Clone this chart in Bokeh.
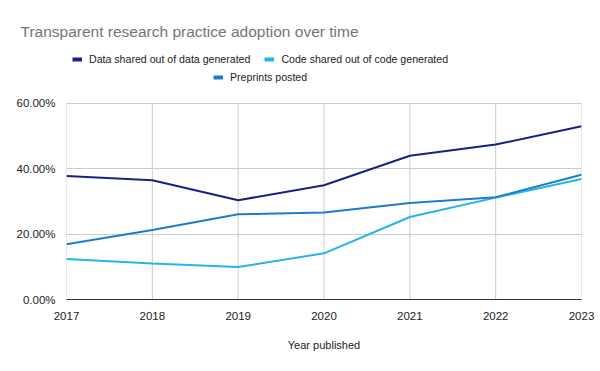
from bokeh.plotting import figure
from bokeh.models import Range1d, FixedTicker, CustomJSTickFormatter, Legend, LegendItem
from bokeh.embed import file_html
from bokeh.resources import INLINE

years = [2017, 2018, 2019, 2020, 2021, 2022, 2023]
data_shared = [37.7, 36.4, 30.3, 34.9, 43.9, 47.3, 52.9]
code_shared = [12.4, 11.0, 9.9, 14.1, 25.2, 31.1, 36.8]
preprints = [16.9, 21.2, 26.0, 26.6, 29.5, 31.2, 38.1]
y_ticks = [0, 20, 40, 60]
series_names = ["Data shared out of data generated",
                "Code shared out of code generated",
                "Preprints posted"]
colors = ["#1b1f86", "#23b4ec", "#1c7ccc"]

FONT = "Liberation Sans"
TEXT = "#222222"

# frame extends upward so the legend can sit inside it (above the 60% line)
y_top = y_ticks[-1] * 254.0 / 196.5

p = figure(width=600, height=371, output_backend="svg", toolbar_location=None,
           x_range=Range1d(years[0], years[-1]), y_range=Range1d(0, y_top),
           min_border_left=66, min_border_right=19, min_border_top=45,
           min_border_bottom=72)
p.outline_line_color = None
p.background_fill_color = "white"
p.border_fill_color = "white"

p.title.text = "Transparent research practice adoption over time"
p.title.text_font = FONT
p.title.text_font_size = "15.5px"
p.title.text_font_style = "normal"
p.title.text_color = "#757575"
p.title.align = "left"
p.title.offset = -46
p.title.standoff = 11

# vertical grid lines only up to the top tick
p.xgrid.grid_line_color = None
p.segment(x0=years, y0=[y_ticks[0]] * len(years), x1=years,
          y1=[y_ticks[-1]] * len(years), line_color="#cccccc", line_width=1,
          level="underlay")
p.ygrid.grid_line_color = "#cccccc"

r1 = p.line(years, data_shared, line_color=colors[0], line_width=2)
r2 = p.line(years, code_shared, line_color=colors[1], line_width=2)
r3 = p.line(years, preprints, line_color=colors[2], line_width=2)

# legend-only swatches (thicker)
s1 = p.line(years, data_shared, line_color=colors[0], line_width=4, visible=False)
s2 = p.line(years, code_shared, line_color=colors[1], line_width=4, visible=False)
s3 = p.line(years, preprints, line_color=colors[2], line_width=4, visible=False)

# axes
p.xaxis.ticker = FixedTicker(ticks=years)
p.yaxis.ticker = FixedTicker(ticks=y_ticks)
p.yaxis.formatter = CustomJSTickFormatter(code="return tick.toFixed(2) + '%';")
for ax in (p.xaxis[0], p.yaxis[0]):
    ax.major_tick_line_color = None
    ax.minor_tick_line_color = None
    ax.major_label_text_font = FONT
    ax.major_label_text_font_size = "11.5px"
    ax.major_label_text_color = TEXT
p.yaxis.axis_line_color = None
p.yaxis.major_label_standoff = 5
p.xaxis.axis_line_color = "#333333"
p.xaxis.major_label_standoff = 6
p.xaxis.axis_label = "Year published"
p.xaxis.axis_label_text_font = FONT
p.xaxis.axis_label_text_font_size = "11px"
p.xaxis.axis_label_text_font_style = "normal"
p.xaxis.axis_label_text_color = TEXT
p.xaxis.axis_label_standoff = 16


def make_legend(items, loc):
    lg = Legend(items=items, orientation="horizontal", location=loc)
    lg.label_text_font = FONT
    lg.label_text_font_size = "10.6px"
    lg.label_text_color = TEXT
    lg.glyph_width = 10
    lg.glyph_height = 16
    lg.label_standoff = 7
    lg.spacing = 14
    lg.padding = 0
    lg.margin = 0
    lg.border_line_color = None
    lg.background_fill_alpha = 0
    lg.inactive_fill_alpha = 0
    return lg


leg_a = make_legend([LegendItem(label=series_names[0], renderers=[s1]),
                     LegendItem(label=series_names[1], renderers=[s2])], (6, 232))
leg_b = make_legend([LegendItem(label=series_names[2], renderers=[s3])], (147, 214))
p.add_layout(leg_a)
p.add_layout(leg_b)

open("out.html", "w").write(file_html(p, INLINE))
